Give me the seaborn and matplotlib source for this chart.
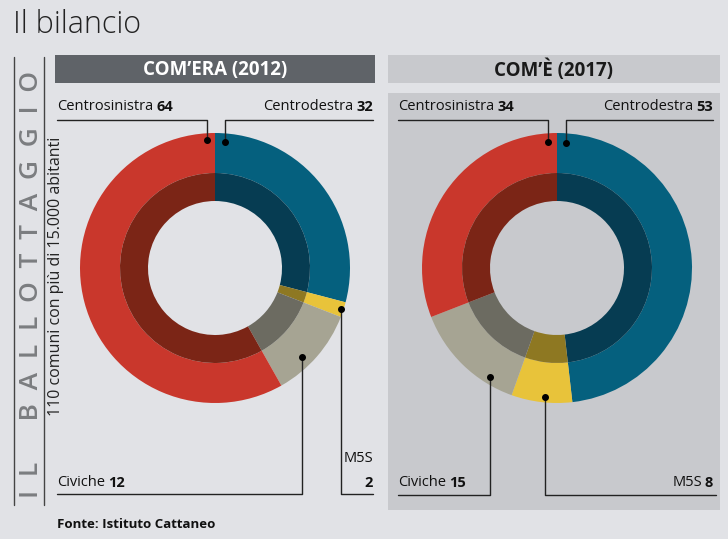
import matplotlib
matplotlib.use("Agg")
import matplotlib.pyplot as plt
from matplotlib.patches import Rectangle
import seaborn as sns

sns.set_theme(style="white")
plt.rcParams['font.family'] = ['Open Sans', 'DejaVu Sans']

# ---- data ----
parties = ["Centrodestra", "M5S", "Civiche", "Centrosinistra"]
values_2012 = [32, 2, 12, 64]
values_2017 = [53, 8, 15, 34]
panel_titles = ["COM\u2019ERA (2012)", "COM\u2019È (2017)"]
title = "Il bilancio"
side_title = "IL BALLOTTAGGIO"
side_sub = "110 comuni con più di 15.000 abitanti"
source = "Fonte: Istituto Cattaneo"

outer_colors = sns.color_palette(["#05607e", "#e8c33a", "#a6a493", "#c9372c"])
inner_colors = sns.color_palette(["#063c52", "#8e7822", "#6c6b61", "#7b2516"])

W, H = 728, 539
bg = "#e1e2e6"
fig = plt.figure(figsize=(W / 100, H / 100), dpi=100, facecolor=bg)

def px_axes(x0, y0, w, h, z):
    a = fig.add_axes([x0 / W, 1 - (y0 + h) / H, w / W, h / H], zorder=z)
    return a

# background layer
bga = px_axes(0, 0, W, H, 0)
bga.set_xlim(0, W); bga.set_ylim(H, 0); bga.axis("off")
bga.add_patch(Rectangle((55, 55), 320, 28, color="#5f6368", lw=0))
bga.add_patch(Rectangle((388, 55), 332, 28, color="#c8c9cd", lw=0))
bga.add_patch(Rectangle((388, 93), 332, 417, color="#c8c9cd", lw=0))

# donuts
R = 135
centers = [(215, 268), (557, 268)]
for (cx, cy), vals in zip(centers, [values_2012, values_2017]):
    a = px_axes(cx - R, cy - R, 2 * R, 2 * R, 1)
    a.set_xlim(-1, 1); a.set_ylim(-1, 1); a.axis("off")
    a.patch.set_alpha(0)
    a.pie(vals, colors=outer_colors, startangle=90, counterclock=False,
          radius=1.0, wedgeprops=dict(width=40 / R, linewidth=0))
    a.pie(vals, colors=inner_colors, startangle=90, counterclock=False,
          radius=95 / R, wedgeprops=dict(width=28 / R, linewidth=0))
    a.set_xlim(-1, 1); a.set_ylim(-1, 1)

# overlay
ov = px_axes(0, 0, W, H, 2)
ov.set_xlim(0, W); ov.set_ylim(H, 0); ov.axis("off")
ov.patch.set_alpha(0)

ov.text(13, 25, title, fontsize=22, fontweight="light", color="#222222",
        va="center", ha="left")
ov.text(215, 70, panel_titles[0], fontsize=13.5, fontweight="bold", color="white",
        ha="center", va="center")
ov.text(553, 70, panel_titles[1], fontsize=13.5, fontweight="bold", color="#1a1a1a",
        ha="center", va="center")

# side
ov.plot([14, 14], [57, 505], color="#444444", lw=1)
ov.plot([44, 44], [57, 505], color="#444444", lw=1)
side_txt = "  ".join(side_title).replace("   ", "    ")
ov.text(32, 285, side_txt, rotation=90, fontsize=19, fontweight="semibold",
        color="#7b7d80", ha="center", va="center")
ov.text(56, 276, side_sub, rotation=90, fontsize=11.5, color="#222222",
        ha="center", va="center")
ov.text(57, 525, source, fontsize=9.5, fontweight="bold", color="#111111",
        ha="left", va="center")

lc = "#222222"
FS = 10.5

def rich(x, y, name, val, ha="left"):
    if ha == "left":
        t = ov.text(x, y, name, fontsize=FS, color="#111111", ha="left", va="center")
        fig.canvas.draw()
        bb = t.get_window_extent().transformed(ov.transData.inverted())
        ov.text(bb.x1 + 3, y, str(val), fontsize=FS, fontweight="bold",
                color="#111111", ha="left", va="center")
    else:
        t = ov.text(x, y, str(val), fontsize=FS, fontweight="bold",
                    color="#111111", ha="right", va="center")
        fig.canvas.draw()
        bb = t.get_window_extent().transformed(ov.transData.inverted())
        ov.text(bb.x0 - 3, y, name, fontsize=FS, color="#111111",
                ha="right", va="center")

def leader(pts, dot):
    xs, ys = zip(*pts)
    ov.plot(xs, ys, color=lc, lw=1)
    ov.plot([dot[0]], [dot[1]], "o", color="black", ms=4)

# left panel labels
rich(57, 107, parties[3], values_2012[3], "left")
leader([(57, 120), (207, 120), (207, 140)], (207, 140))
rich(373, 107, parties[0], values_2012[0], "right")
leader([(373, 120), (225, 120), (225, 142)], (225, 142))
rich(57, 483, parties[2], values_2012[2], "left")
leader([(57, 494), (302, 494), (302, 357)], (302, 357))
ov.text(373, 459, parties[1], fontsize=FS, color="#111111", ha="right", va="center")
ov.text(373, 483, str(values_2012[1]), fontsize=FS, fontweight="bold",
        color="#111111", ha="right", va="center")
leader([(373, 494), (341, 494), (341, 309)], (341, 309))

# right panel labels
rich(398, 107, parties[3], values_2017[3], "left")
leader([(398, 120), (548, 120), (548, 142)], (548, 142))
rich(713, 107, parties[0], values_2017[0], "right")
leader([(713, 120), (566, 120), (566, 143)], (566, 143))
rich(398, 483, parties[2], values_2017[2], "left")
leader([(398, 495), (490, 495), (490, 377)], (490, 377))
rich(713, 483, parties[1], values_2017[1], "right")
leader([(716, 495), (545, 495), (545, 397)], (545, 397))

fig.savefig("out.png", dpi=100, facecolor=bg)
